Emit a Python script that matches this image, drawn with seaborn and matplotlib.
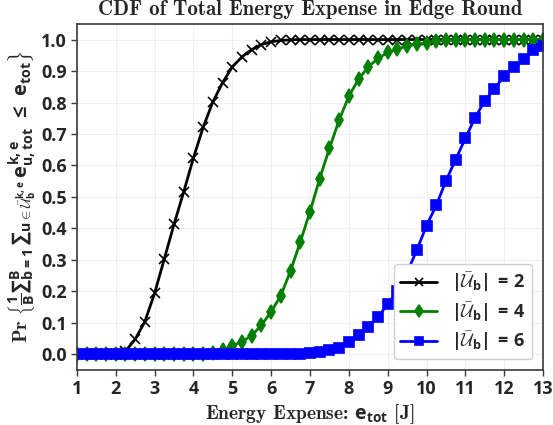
import pandas as pd
import numpy as np
import matplotlib
matplotlib.use("Agg")
import matplotlib.pyplot as plt
import seaborn as sns


# energy grid (J), sampled every 0.25 J
energy_j = [1.0, 1.25, 1.5, 1.75, 2.0, 2.25, 2.5, 2.75, 3.0, 3.25, 3.5, 3.75,
            4.0, 4.25, 4.5, 4.75, 5.0, 5.25, 5.5, 5.75, 6.0, 6.25, 6.5, 6.75,
            7.0, 7.25, 7.5, 7.75, 8.0, 8.25, 8.5, 8.75, 9.0, 9.25, 9.5, 9.75,
            10.0, 10.25, 10.5, 10.75, 11.0, 11.25, 11.5, 11.75, 12.0, 12.25,
            12.5, 12.75, 13.0]

cdf_u2 = ([0.0] * 5
          + [0.01, 0.048, 0.104, 0.194, 0.303, 0.413, 0.516, 0.624, 0.721,
             0.802, 0.863, 0.913, 0.945, 0.968, 0.984, 0.993, 0.997, 0.999]
          + [1.0] * 26)

cdf_u4 = ([0.0] * 14
          + [0.004, 0.014, 0.028, 0.04, 0.06, 0.093, 0.135, 0.187, 0.265,
             0.357, 0.453, 0.558, 0.654, 0.744, 0.820, 0.874, 0.913, 0.940,
             0.959, 0.970, 0.979, 0.985, 0.990, 0.994, 0.997, 0.998, 0.999]
          + [1.0] * 8)

cdf_u6 = ([0.0] * 23
          + [0.002, 0.005, 0.008, 0.014, 0.021, 0.038, 0.061, 0.088, 0.119,
             0.159, 0.202, 0.260, 0.331, 0.409, 0.473, 0.551, 0.619, 0.686,
             0.752, 0.805, 0.844, 0.884, 0.913, 0.938, 0.966, 0.979])

series_labels = [r"$|\bar{\mathcal{U}}_\mathbf{b}|\,=\,\mathbf{2}$",
                 r"$|\bar{\mathcal{U}}_\mathbf{b}|\,=\,\mathbf{4}$",
                 r"$|\bar{\mathcal{U}}_\mathbf{b}|\,=\,\mathbf{6}$"]
x_ticks = list(range(1, 14))
y_ticks = [0.0, 0.1, 0.2, 0.3, 0.4, 0.5, 0.6, 0.7, 0.8, 0.9, 1.0]


sns.set_style("whitegrid", {"grid.color": "#efefef", "axes.edgecolor": "#3a3a3a",
                            "xtick.bottom": True, "ytick.left": True})
plt.rcParams["font.family"] = ["Open Sans", "DejaVu Sans"]
plt.rcParams["font.weight"] = "bold"
plt.rcParams["mathtext.fontset"] = "custom"
plt.rcParams["mathtext.rm"] = "Open Sans:bold"
plt.rcParams["mathtext.it"] = "Open Sans:bold"
plt.rcParams["mathtext.bf"] = "Open Sans:bold"
plt.rcParams["mathtext.sf"] = "Open Sans:bold"
plt.rcParams["mathtext.cal"] = "cmsy10"
plt.rcParams["mathtext.tt"] = "cmb10"

df = pd.DataFrame({"energy": energy_j, "u2": cdf_u2, "u4": cdf_u4, "u6": cdf_u6})

fig = plt.figure(figsize=(5.53, 4.25), dpi=100)
ax = fig.add_axes([0.139, 0.129, 0.843, 0.815])

styles = [("u2", "black", "x", 6.5), ("u4", "green", "d", 7), ("u6", "blue", "s", 6.5)]
for (col, color, marker, ms), label in zip(styles, series_labels):
	sns.lineplot(data=df, x="energy", y=col, ax=ax, color=color, marker=marker,
	             markersize=ms, markeredgecolor=color, markeredgewidth=1.2,
	             linewidth=2, label=label)

ax.set_xlim(1, 13)
ax.set_ylim(-0.05, 1.05)
ax.set_xticks(x_ticks)
ax.set_yticks(y_ticks)
ax.set_yticklabels([f"{v:.1f}" for v in y_ticks])
ax.tick_params(labelsize=13, length=4, width=1, color="#3a3a3a", pad=3)
for lab in ax.get_xticklabels() + ax.get_yticklabels():
	lab.set_fontweight("bold")
for sp in ax.spines.values():
	sp.set_linewidth(1.2)

ax.set_title("CDF of Total Energy Expense in Edge Round", family="cmb10", fontsize=15, pad=6)
ax.set_xlabel(r"Energy Expense: $\mathbf{e_{tot}}$ [J]", family="cmb10", fontsize=14, labelpad=3)
ax.set_ylabel(r"$\mathtt{Pr}\ \left\{\frac{1}{B}{\sum}_{b=1}^{B}\,{\sum}_{u\in\bar{\mathcal{U}}_b^{k,e}}\,"
              r"e_{u,tot}^{k,e}\ \leq\ e_{tot}\right\}$", fontsize=14.5, labelpad=2)

leg = ax.legend(loc="lower right", fontsize=13, framealpha=1, edgecolor="#d0d0d0",
                handlelength=2.0, borderpad=0.35, labelspacing=0.3, markerscale=0.85,
                borderaxespad=0.6)

fig.savefig("out.png", dpi=100)
